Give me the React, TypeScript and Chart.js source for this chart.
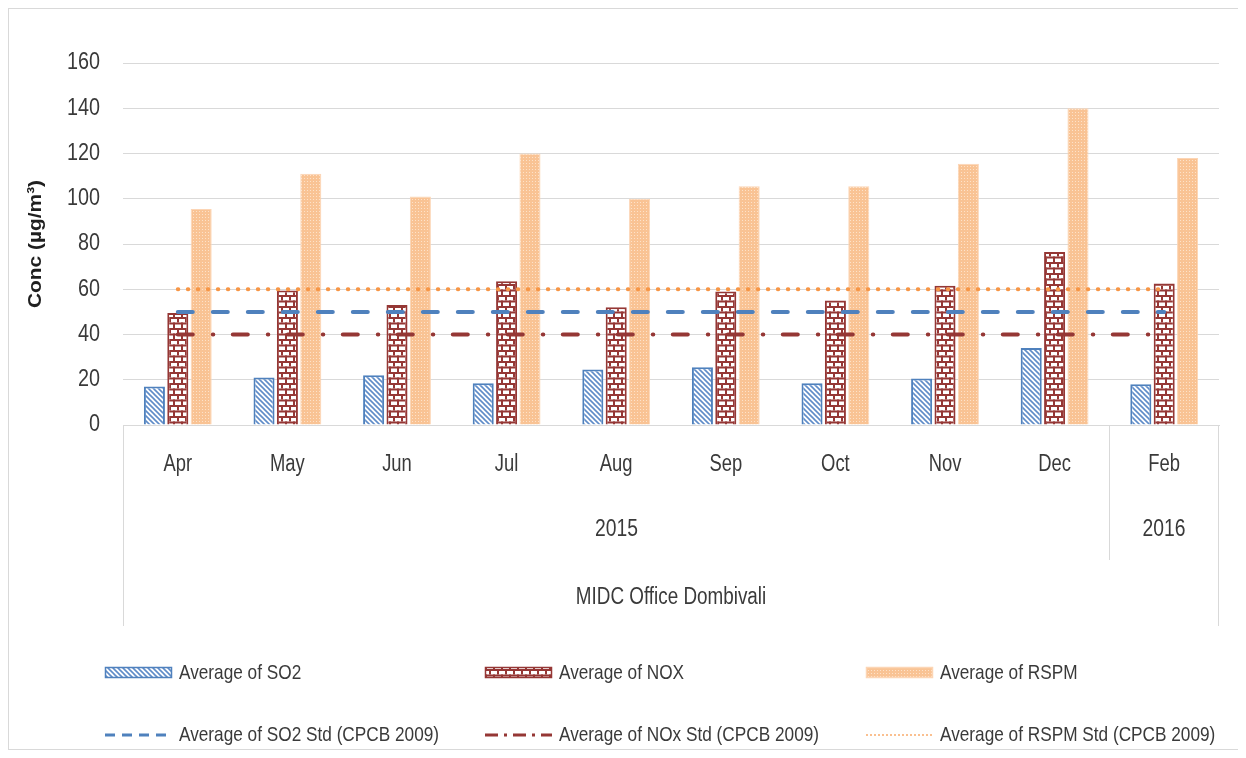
import React, { useEffect, useRef } from "react";
import { Chart, registerables } from "chart.js";

Chart.register(...registerables);

// ---------------- data ----------------
const months = ["Apr", "May", "Jun", "Jul", "Aug", "Sep", "Oct", "Nov", "Dec", "Feb"];
const yearGroups = [
  { label: "2015", first: 0, last: 8 },
  { label: "2016", first: 9, last: 9 },
];
const stationLabel = "MIDC Office Dombivali";
const yTitle = "Conc (µg/m³)";

const so2Values = [17, 21, 22, 18.5, 24.5, 25.5, 18.5, 20.5, 34, 18];
const noxValues = [49.5, 59.5, 53, 63.5, 52, 59, 55, 61.5, 76.5, 62.5];
const rspmValues = [95.5, 111, 101, 120, 100, 105.5, 105.5, 115.5, 140, 118];

const so2Std = [50, 50, 50, 50, 50, 50, 50, 50, 50, 50];
const noxStd = [40, 40, 40, 40, 40, 40, 40, 40, 40, 40];
const rspmStd = [60, 60, 60, 60, 60, 60, 60, 60, 60, 60];

const yTicks = [0, 20, 40, 60, 80, 100, 120, 140, 160];

const seriesNames = [
  "Average of SO2",
  "Average of NOX",
  "Average of RSPM",
  "Average of SO2 Std (CPCB 2009)",
  "Average of NOx Std (CPCB 2009)",
  "Average of RSPM Std (CPCB 2009)",
];

// ---------------- styles ----------------
const FONT = "'Liberation Sans', Arial, sans-serif";
const TEXT = "#3a3a3a";
const GRID = "#d9d9d9";
const BLUE = "#4f81bd";
const RED = "#953735";
const ORANGE = "#f79646";
const PEACH = "#fac090";

function makeStripe(): CanvasPattern {
  const c = document.createElement("canvas");
  c.width = 5;
  c.height = 5;
  const g = c.getContext("2d")!;
  g.fillStyle = "#fff";
  g.fillRect(0, 0, 5, 5);
  g.strokeStyle = "#5f8cc8";
  g.lineWidth = 1.6;
  for (const k of [-5, 0, 5]) {
    g.beginPath();
    g.moveTo(k - 1, -1);
    g.lineTo(k + 6, 6);
    g.stroke();
  }
  return g.createPattern(c, "repeat")!;
}

function makeBrick(): CanvasPattern {
  const c = document.createElement("canvas");
  c.width = 16;
  c.height = 11;
  const g = c.getContext("2d")!;
  g.fillStyle = "#fff";
  g.fillRect(0, 0, 16, 11);
  g.fillStyle = RED;
  g.fillRect(0, 0, 16, 2);
  g.fillRect(0, 5.5, 16, 2);
  g.fillRect(0, 0, 2, 5.5);
  g.fillRect(8, 0, 2, 5.5);
  g.fillRect(4, 5.5, 2, 5.5);
  g.fillRect(12, 5.5, 2, 5.5);
  return g.createPattern(c, "repeat")!;
}

function makeDots(): CanvasPattern {
  const c = document.createElement("canvas");
  c.width = 3;
  c.height = 3;
  const g = c.getContext("2d")!;
  g.fillStyle = "#f9c394";
  g.fillRect(0, 0, 3, 3);
  g.fillStyle = "#fde2c9";
  g.fillRect(1, 1, 1, 1);
  return g.createPattern(c, "repeat")!;
}

function condensedText(
  ctx: CanvasRenderingContext2D,
  text: string,
  x: number,
  y: number,
  size: number,
  sx: number,
  align: CanvasTextAlign,
  weight = "normal"
) {
  ctx.save();
  ctx.translate(x, y);
  ctx.scale(sx, 1);
  ctx.font = `${weight} ${size}px ${FONT}`;
  ctx.textAlign = align;
  ctx.textBaseline = "middle";
  ctx.fillText(text, 0, 0);
  ctx.restore();
}

export default function App() {
  const ref = useRef<HTMLCanvasElement | null>(null);

  useEffect(() => {
    if (!ref.current) return;
    const stripe = makeStripe();
    const brick = makeBrick();
    const dots = makeDots();

    const decorPlugin = {
      id: "decor",
      afterDraw(chart: any) {
        const ctx = chart.ctx as CanvasRenderingContext2D;
        const area = chart.chartArea;
        const xs = chart.scales.x;
        const ys = chart.scales.y;
        const bottom = area.bottom;
        ctx.save();
        // axis box lines below plot
        ctx.strokeStyle = GRID;
        ctx.lineWidth = 1;
        const sep = Math.round((xs.getPixelForTick(8) + xs.getPixelForTick(9)) / 2) + 0.5;
        const L = Math.round(area.left) + 0.5;
        const R = Math.round(area.right) - 0.5;
        ctx.beginPath();
        ctx.moveTo(L, bottom);
        ctx.lineTo(L, 617);
        ctx.moveTo(R, bottom);
        ctx.lineTo(R, 617);
        ctx.moveTo(sep, bottom);
        ctx.lineTo(sep, 551);
        ctx.stroke();

        ctx.fillStyle = TEXT;
        // y tick labels
        yTicks.forEach((v) => {
          condensedText(ctx, String(v), 91, ys.getPixelForValue(v), 23, 0.86, "right");
        });
        // y title (rotated)
        ctx.save();
        ctx.translate(27, (area.top + area.bottom) / 2);
        ctx.rotate(-Math.PI / 2);
        ctx.scale(1.1, 1);
        ctx.font = `bold 19px ${FONT}`;
        ctx.textAlign = "center";
        ctx.textBaseline = "middle";
        ctx.fillStyle = "#1f1f1f";
        ctx.fillText(yTitle, 0, 0);
        ctx.restore();

        // month labels
        ctx.fillStyle = TEXT;
        months.forEach((m, i) => {
          condensedText(ctx, m, xs.getPixelForTick(i), 456, 23, 0.8, "center");
        });
        // year labels
        const bounds = [L, sep, R];
        yearGroups.forEach((yg, i) => {
          condensedText(ctx, yg.label, (bounds[i] + bounds[i + 1]) / 2, 521, 23, 0.84, "center");
        });
        // station label
        condensedText(ctx, stationLabel, (L + R) / 2, 589, 23, 0.82, "center");

        // legend
        const cols = [96, 476, 857];
        const textX = [170, 550, 931];
        const row1 = 664;
        const row2 = 726;
        const symW = 67;
        const fills = [stripe, brick, dots];
        const borders = [BLUE, RED, "#fcd5b5"];
        for (let i = 0; i < 3; i++) {
          ctx.fillStyle = fills[i];
          ctx.fillRect(cols[i], row1 - 6, symW, 11);
          ctx.strokeStyle = borders[i];
          ctx.lineWidth = 1.5;
          ctx.strokeRect(cols[i] + 0.5, row1 - 5.5, symW - 1, 10);
          ctx.fillStyle = TEXT;
          condensedText(ctx, seriesNames[i], textX[i], row1, 21, 0.82, "left");
        }
        const lineStyles = [
          { color: BLUE, dash: [10, 7], w: 3 },
          { color: RED, dash: [13, 6, 3, 6], w: 3 },
          { color: PEACH, dash: [2, 2], w: 2 },
        ];
        for (let i = 0; i < 3; i++) {
          const s = lineStyles[i];
          ctx.strokeStyle = s.color;
          ctx.lineWidth = s.w;
          ctx.setLineDash(s.dash);
          ctx.beginPath();
          ctx.moveTo(cols[i], row2);
          ctx.lineTo(cols[i] + symW, row2);
          ctx.stroke();
          ctx.setLineDash([]);
          ctx.fillStyle = TEXT;
          condensedText(ctx, seriesNames[3 + i], textX[i], row2, 21, 0.82, "left");
        }
        ctx.restore();
      },
    };

    const chart = new Chart(ref.current, {
      type: "bar",
      data: {
        labels: months,
        datasets: [
          {
            type: "line",
            label: seriesNames[3],
            data: so2Std,
            borderColor: BLUE,
            borderWidth: 4,
            borderDash: [15, 20],
            borderCapStyle: "round",
            pointRadius: 0,
            fill: false,
            order: 0,
          } as any,
          {
            type: "line",
            label: seriesNames[4],
            data: noxStd,
            borderColor: RED,
            borderWidth: 4,
            borderDash: [15, 20, 0.5, 19.5],
            borderCapStyle: "round",
            pointRadius: 0,
            fill: false,
            order: 0,
          } as any,
          {
            type: "line",
            label: seriesNames[5],
            data: rspmStd,
            borderColor: ORANGE,
            borderWidth: 4,
            borderDash: [0.5, 9.5],
            borderCapStyle: "round",
            pointRadius: 0,
            fill: false,
            order: 0,
          } as any,
          {
            label: seriesNames[0],
            data: so2Values,
            backgroundColor: stripe,
            borderColor: BLUE,
            borderWidth: 2,
            categoryPercentage: 0.64,
            barPercentage: 0.9,
            order: 1,
          },
          {
            label: seriesNames[1],
            data: noxValues,
            backgroundColor: brick,
            borderColor: RED,
            borderWidth: 2,
            categoryPercentage: 0.64,
            barPercentage: 0.9,
            order: 1,
          },
          {
            label: seriesNames[2],
            data: rspmValues,
            backgroundColor: dots,
            borderColor: "#fcd5b5",
            borderWidth: 1,
            categoryPercentage: 0.64,
            barPercentage: 0.9,
            order: 1,
          },
        ],
      },
      options: {
        responsive: false,
        animation: false,
        layout: { padding: { top: 54, right: 20, left: 0, bottom: 0 } },
        plugins: {
          legend: { display: false },
          tooltip: { enabled: false },
        },
        scales: {
          x: {
            type: "category",
            offset: true,
            grid: { display: false },
            border: { display: true, color: GRID, width: 1 },
            ticks: { display: false },
            afterFit: (s: any) => {
              s.height = 324;
            },
          },
          y: {
            min: 0,
            max: 160,
            afterBuildTicks: (s: any) => {
              s.ticks = yTicks.map((v) => ({ value: v }));
            },
            grid: { color: GRID, drawTicks: false, lineWidth: 1 },
            border: { display: false },
            ticks: { display: false },
            afterFit: (s: any) => {
              s.width = 114;
            },
          },
        },
      },
      plugins: [decorPlugin],
    });
    return () => chart.destroy();
  }, []);

  return (
    <div style={{ width: 1230, height: 740, border: "1px solid #d9d9d9", background: "#fff" }}>
      <canvas ref={ref} width={1230} height={740} style={{ display: "block" }} />
    </div>
  );
}
